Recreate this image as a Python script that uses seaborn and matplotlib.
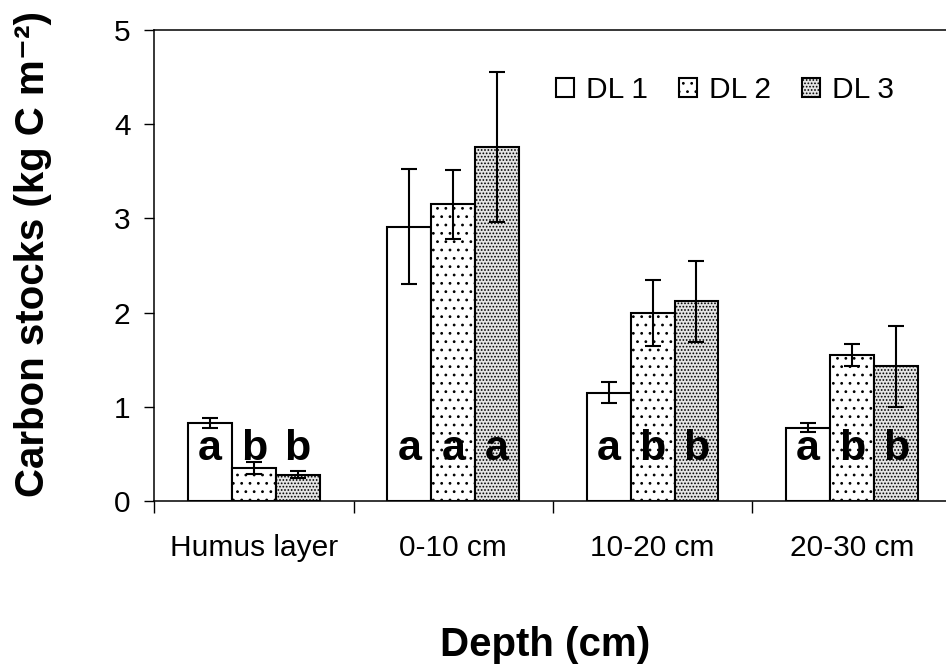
import pandas as pd
import matplotlib
matplotlib.use("Agg")
import matplotlib.pyplot as plt
import seaborn as sns

sns.set_style("ticks")
plt.rcParams["font.family"] = ["Liberation Sans", "DejaVu Sans"]
plt.rcParams["hatch.linewidth"] = 0.8
for key in ["text.color", "axes.labelcolor", "xtick.color", "ytick.color",
            "axes.edgecolor"]:
    plt.rcParams[key] = "black"

# values
depths = ["Humus layer", "0-10 cm", "10-20 cm", "20-30 cm"]
levels = ["DL 1", "DL 2", "DL 3"]
dl1 = [0.83, 2.91, 1.15, 0.78]
dl2 = [0.35, 3.15, 2.00, 1.55]
dl3 = [0.28, 3.76, 2.12, 1.43]
err1 = [0.05, 0.61, 0.11, 0.045]
err2 = [0.065, 0.365, 0.35, 0.12]
err3 = [0.035, 0.80, 0.43, 0.43]
letters1 = ["a", "a", "a", "a"]
letters2 = ["b", "a", "b", "b"]
letters3 = ["b", "a", "b", "b"]

df = pd.DataFrame({
    "depth": depths * 3,
    "level": [lv for lv in levels for _ in depths],
    "stock": dl1 + dl2 + dl3,
})
errors = [err1, err2, err3]
letters = [letters1, letters2, letters3]

fig = plt.figure(figsize=(9.46, 6.68), dpi=100)
ax = fig.add_axes([0.163, 0.25, 0.843, 0.705])

sns.barplot(data=df, x="depth", y="stock", hue="level", order=depths,
            hue_order=levels, palette=["white", "white", "#e4e4e4"],
            width=0.66, gap=0, edgecolor="black", linewidth=1.5,
            errorbar=None, legend=False, ax=ax, saturation=1)

hatches = ["", "..", "....."]
for cont, hatch, err, lets in zip(ax.containers, hatches, errors, letters):
    xs, ys = [], []
    for bar in cont.patches:
        bar.set_hatch(hatch)
        xs.append(bar.get_x() + bar.get_width() / 2)
        ys.append(bar.get_height())
    ax.errorbar(xs, ys, yerr=err, fmt="none", ecolor="black",
                elinewidth=1.5, capsize=5.5, capthick=1.5, zorder=5)
    for x, t in zip(xs, lets):
        ax.text(x, 0.44, t, ha="center", va="baseline", fontsize=31,
                fontweight="bold", zorder=6)

ax.set_xlim(-0.5, 3.5)
ax.set_ylim(0, 5)
ax.set_yticks(range(6))
ax.set_xticks(range(4))
ax.set_xticklabels(depths)
ax.set_xticks([-0.5, 0.5, 1.5, 2.5, 3.5], minor=True)
ax.tick_params(axis="x", which="major", length=0, pad=24, labelsize=21.5)
ax.tick_params(axis="x", which="minor", length=8.5, width=1, direction="out")
ax.tick_params(axis="y", length=7, width=1, pad=10, labelsize=21.5)
for side in ["left", "bottom", "top"]:
    ax.spines[side].set_linewidth(1.1)
ax.spines["right"].set_visible(False)

ax.set_xlabel("Depth (cm)", fontsize=29, fontweight="bold")
ax.set_ylabel("Carbon stocks (kg C m\u207b\u00b2)", fontsize=29,
              fontweight="bold")
ax.xaxis.set_label_coords(0.49, -0.265)
ax.yaxis.set_label_coords(-0.128, 0.525)

ax.legend(list(ax.containers), levels, loc="center right",
          bbox_to_anchor=(0.928, 0.873), ncol=3, frameon=False,
          fontsize=21.5, handlelength=0.6, handleheight=0.6,
          handletextpad=0.4, columnspacing=1.05, borderpad=0,
          borderaxespad=0)

fig.savefig("out.png", dpi=100)
